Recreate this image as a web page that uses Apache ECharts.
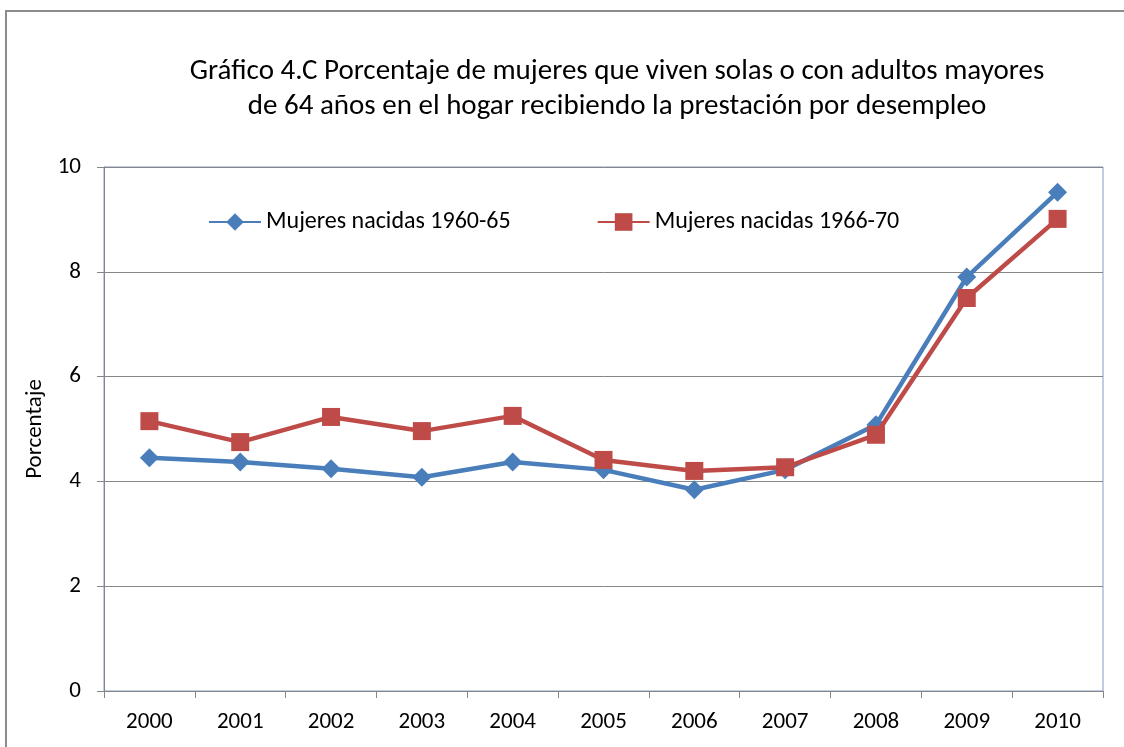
<!DOCTYPE html>
<html>
<head>
<meta charset="utf-8">
<script src="https://cdn.jsdelivr.net/npm/echarts@6/dist/echarts.min.js"></script>
<style>
  html, body { margin: 0; padding: 0; background: #fff; }
  .frame { position: absolute; left: 5px; top: 10px; width: 1130px; height: 760px; border: 2px solid #8c8c8c; }
  #chart { position: absolute; left: 0; top: 0; width: 1124px; height: 747px; }
</style>
</head>
<body>
<div class="frame"></div>
<div id="chart"></div>
<script>
  var years = ['2000', '2001', '2002', '2003', '2004', '2005', '2006', '2007', '2008', '2009', '2010'];
  var serie1960 = [4.45, 4.37, 4.24, 4.08, 4.37, 4.22, 3.84, 4.22, 5.08, 7.9, 9.52];
  var serie1966 = [5.15, 4.75, 5.23, 4.96, 5.25, 4.41, 4.2, 4.27, 4.89, 7.5, 9.01];
  var yTicks = [0, 2, 4, 6, 8, 10];

  var fontFam = 'Carlito, Lato, sans-serif';
  var chart = echarts.init(document.getElementById('chart'));

  var option = {
    backgroundColor: 'transparent',
    title: {
      text: 'Gráfico 4.C Porcentaje de mujeres que viven solas o con adultos mayores\nde 64 años en el hogar recibiendo la prestación por desempleo',
      left: 612,
      top: 49,
      textAlign: 'center',
      textStyle: { fontFamily: fontFam, fontSize: 29, fontWeight: 'normal', color: '#000', lineHeight: 35 }
    },
    legend: {
      top: 205,
      left: 203,
      itemGap: 86,
      itemWidth: 52,
      itemHeight: 22,
      textStyle: { fontFamily: fontFam, fontSize: 24, color: '#000' },
      data: ['Mujeres nacidas 1960-65', 'Mujeres nacidas 1966-70']
    },
    grid: {
      left: 104, right: 21, top: 167, bottom: 56,
      show: true,
      borderColor: '#7f9cc2',
      borderWidth: 1
    },
    xAxis: {
      type: 'category',
      data: years,
      boundaryGap: true,
      axisLine: { lineStyle: { color: '#868686', width: 1 } },
      axisTick: { show: true, inside: false, length: 7, lineStyle: { color: '#868686' } },
      axisLabel: { fontFamily: fontFam, fontSize: 23, color: '#000', margin: 20 },
      splitLine: { show: false }
    },
    yAxis: {
      type: 'value',
      min: yTicks[0],
      max: yTicks[yTicks.length - 1],
      interval: 2,
      name: 'Porcentaje',
      nameLocation: 'middle',
      nameGap: 56,
      nameTextStyle: { fontFamily: fontFam, fontSize: 23, color: '#000' },
      axisLine: { show: true, lineStyle: { color: '#868686', width: 1 } },
      axisTick: { show: true, length: 7, lineStyle: { color: '#868686' } },
      axisLabel: { fontFamily: fontFam, fontSize: 23, color: '#000', margin: 23 },
      splitLine: { lineStyle: { color: '#868686', width: 1 } }
    },
    series: [
      {
        name: 'Mujeres nacidas 1960-65',
        type: 'line',
        data: serie1960,
        symbol: 'diamond',
        symbolSize: 19,
        lineStyle: { color: '#4a7ebb', width: 4.5 },
        itemStyle: { color: '#4a7ebb' },
        z: 2
      },
      {
        name: 'Mujeres nacidas 1966-70',
        type: 'line',
        data: serie1966,
        symbol: 'rect',
        symbolSize: 18,
        lineStyle: { color: '#be4b48', width: 4.5 },
        itemStyle: { color: '#be4b48' },
        z: 3
      }
    ]
  };

  chart.setOption(option);
</script>
</body>
</html>
